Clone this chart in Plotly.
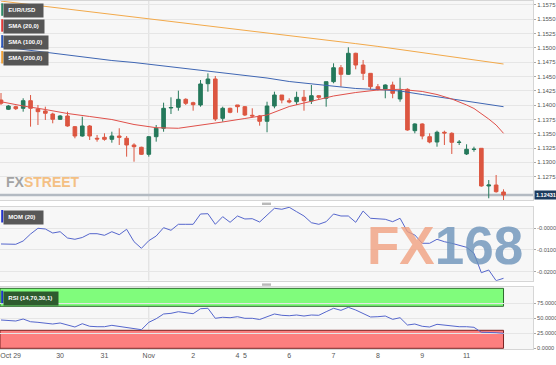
import plotly.graph_objects as go

# ---------------- data (EUR/USD 4h candles) ----------------
day_labels = ["Oct 29", "30", "31", "Nov", "2", "4", "5", "6", "7", "8", "9", "11"]
day_label_candle = [1.3, 8, 14, 20, 26, 32, 33, 39, 45, 51, 57, 63]
month_start_candle = 20

open_ = [1.14090, 1.13928, 1.13973, 1.13945, 1.14078, 1.13933, 1.13898, 1.13845, 1.13753, 1.13811,
         1.13624, 1.13461, 1.13636, 1.13421, 1.13438, 1.13403, 1.13461, 1.13421, 1.13304, 1.13264,
         1.13141, 1.13449, 1.13596, 1.13950, 1.13963, 1.14102, 1.14043, 1.14003, 1.14375, 1.14457,
         1.13770, 1.13945, 1.14003, 1.13973, 1.13823, 1.13811, 1.13718, 1.13985, 1.14177, 1.14078,
         1.14060, 1.14137, 1.14073, 1.14165, 1.14120, 1.14410, 1.14654, 1.14539, 1.14906, 1.14701,
         1.14556, 1.14322, 1.14282, 1.14352, 1.14108, 1.14277, 1.13554, 1.13671, 1.13449, 1.13356,
         1.13526, 1.13508, 1.13348, 1.13147, 1.13225, 1.13246, 1.12588, 1.12605, 1.12483]
high = [1.14212, 1.14003, 1.13990, 1.14120, 1.14177, 1.14003, 1.13973, 1.13868, 1.13828, 1.13886,
        1.13636, 1.13798, 1.13653, 1.13479, 1.13508, 1.13536, 1.13596, 1.13461, 1.13334, 1.13274,
        1.13461, 1.13653, 1.14043, 1.14137, 1.14253, 1.14120, 1.14060, 1.14439, 1.14556, 1.14509,
        1.13973, 1.13955, 1.14003, 1.13985, 1.13945, 1.13828, 1.14060, 1.14235, 1.14177, 1.14120,
        1.14235, 1.14265, 1.14352, 1.14177, 1.14410, 1.14731, 1.14701, 1.15011, 1.14916, 1.14789,
        1.14556, 1.14370, 1.14364, 1.14410, 1.14480, 1.14294, 1.13683, 1.13683, 1.13508, 1.13554,
        1.13554, 1.13526, 1.13391, 1.13316, 1.13274, 1.13246, 1.12692, 1.12780, 1.12530]
low = [1.14003, 1.13915, 1.13915, 1.13886, 1.13624, 1.13653, 1.13741, 1.13683, 1.13741, 1.13624,
       1.13421, 1.13449, 1.13391, 1.13362, 1.13379, 1.13344, 1.13304, 1.13100, 1.13012, 1.13129,
       1.13100, 1.13362, 1.13536, 1.13845, 1.13903, 1.14003, 1.13903, 1.13973, 1.14235, 1.13723,
       1.13711, 1.13858, 1.13868, 1.13811, 1.13788, 1.13641, 1.13526, 1.13945, 1.14032, 1.14032,
       1.14003, 1.13903, 1.14020, 1.14102, 1.13973, 1.14382, 1.14322, 1.14527, 1.14626, 1.14439,
       1.14277, 1.14253, 1.14120, 1.14120, 1.14060, 1.13554, 1.13508, 1.13403, 1.13334, 1.13274,
       1.13304, 1.13147, 1.13304, 1.13129, 1.13187, 1.12575, 1.12373, 1.12471, 1.12343]
close = [1.14032, 1.13985, 1.13938, 1.14078, 1.13945, 1.13886, 1.13858, 1.13753, 1.13811, 1.13636,
         1.13461, 1.13636, 1.13461, 1.13409, 1.13403, 1.13461, 1.13438, 1.13304, 1.13274, 1.13141,
         1.13449, 1.13596, 1.13945, 1.13959, 1.14102, 1.14032, 1.14008, 1.14370, 1.14457, 1.13758,
         1.13945, 1.13875, 1.13973, 1.13828, 1.13811, 1.13718, 1.13985, 1.14177, 1.14090, 1.14055,
         1.14137, 1.14078, 1.14165, 1.14137, 1.14410, 1.14654, 1.14539, 1.14906, 1.14701, 1.14556,
         1.14322, 1.14282, 1.14352, 1.14207, 1.14253, 1.13566, 1.13671, 1.13461, 1.13356, 1.13526,
         1.13514, 1.13351, 1.13353, 1.13229, 1.13231, 1.12588, 1.12605, 1.12488, 1.12431]

sma20_candle = [0, 3, 6, 9, 12, 15, 18, 21, 24, 27, 30, 33, 36, 39, 42, 45, 48, 51, 54, 57, 59, 61, 63, 64, 66, 67, 68]
sma20 = [1.14060, 1.13985, 1.13924, 1.13854, 1.13802, 1.13749, 1.13662, 1.13606, 1.13596, 1.13645,
         1.13706, 1.13767, 1.13828, 1.13976, 1.14064, 1.14160, 1.14221, 1.14265, 1.14277, 1.14239,
         1.14186, 1.14108, 1.14003, 1.13942, 1.13758, 1.13653, 1.13508]
sma100_candle = [0, 3, 6, 9, 12, 15, 18, 21, 24, 27, 30, 33, 36, 39, 42, 45, 48, 51, 54, 57, 60, 63, 66, 68]
sma100 = [1.15021, 1.14972, 1.14920, 1.14867, 1.14824, 1.14780, 1.14745, 1.14701, 1.14649, 1.14605,
          1.14562, 1.14518, 1.14474, 1.14413, 1.14370, 1.14326, 1.14291, 1.14273, 1.14247, 1.14186,
          1.14125, 1.14064, 1.14011, 1.13973]
sma200_candle = [0, 3, 6, 9, 12, 15, 18, 21, 24, 27, 30, 33, 36, 39, 42, 45, 48, 51, 54, 57, 60, 63, 66, 68]
sma200 = [1.15818, 1.15772, 1.15727, 1.15680, 1.15634, 1.15589, 1.15544, 1.15498, 1.15453, 1.15407,
          1.15362, 1.15316, 1.15269, 1.15220, 1.15173, 1.15124, 1.15075, 1.15026, 1.14974, 1.14923,
          1.14869, 1.14813, 1.14757, 1.14719]

mom20 = [-0.00723, -0.00733, -0.00737, -0.00585, -0.00263, 0.00000, -0.00032, -0.00217, -0.00157, -0.00447,
         -0.00507, -0.00424, -0.00249, -0.00249, -0.00323, -0.00157, -0.00295, -0.00046, -0.00618, -0.00922,
         -0.00571, -0.00355, 0.00028, -0.00092, 0.00184, 0.00184, 0.00184, 0.00659, 0.00673, 0.00184,
         0.00535, 0.00276, 0.00567, 0.00429, 0.00442, 0.00290, 0.00613, 0.00922, 0.00876, 0.00968,
         0.00765, 0.00567, 0.00258, 0.00184, 0.00304, 0.00659, 0.00567, 0.00567, 0.00276, 0.00797,
         0.00461, 0.00429, 0.00415, 0.00304, 0.00461, -0.00157, -0.00309, -0.00691, -0.00691, -0.00507,
         -0.00618, -0.00691, -0.00770, -0.00876, -0.01152, -0.02046, -0.01922, -0.02415, -0.02304]
rsi14 = [47.2, 46.3, 45.5, 48.8, 44.3, 43.3, 42.2, 40.5, 42.2, 39.3,
         35.5, 41.0, 36.7, 36.0, 36.0, 38.3, 36.7, 34.3, 32.7, 31.0,
         43.3, 49.3, 57.2, 58.3, 61.0, 58.8, 57.7, 66.0, 66.7, 50.0,
         51.7, 51.0, 52.7, 50.0, 50.0, 48.0, 52.7, 57.2, 55.0, 54.3,
         55.5, 53.8, 55.5, 55.0, 61.0, 66.7, 63.3, 68.3, 63.8, 58.3,
         52.2, 52.7, 53.8, 48.3, 51.0, 38.8, 40.5, 36.7, 35.5, 40.0,
         38.3, 37.2, 36.0, 36.0, 35.0, 26.7, 26.7, 26.0, 25.0]

price_ticks = [1.1275, 1.1300, 1.1325, 1.1350, 1.1375, 1.1400, 1.1425,
               1.1450, 1.1475, 1.1500, 1.1525, 1.1550, 1.1575]
mom_ticks = [0.0, -0.01, -0.02]
mom_tick_text = ["-0.0000", "-0.0100", "-0.0200"]
rsi_ticks = [0, 25, 50, 75]
rsi_tick_text = ["0.0000", "25.0000", "50.0000", "75.0000"]
rsi_overbought, rsi_oversold = 70, 30

# ---------------- style / layout helpers ----------------
W, H = 556, 365
def px(x): return x / W
def py(y): return 1 - y / H

GREEN = "#25795b"
RED = "#dc5641"
LINE_BLUE = "#5566cc"
FONT = "Liberation Sans, Arial, sans-serif"
candles = list(range(len(close)))

fig = go.Figure()
fig.add_trace(go.Scatter(x=sma200_candle, y=sma200, mode="lines", line=dict(color="#f2a94a", width=1),
                         xaxis="x", yaxis="y", hoverinfo="skip", showlegend=False))
fig.add_trace(go.Scatter(x=sma100_candle, y=sma100, mode="lines", line=dict(color="#3f66b3", width=1),
                         xaxis="x", yaxis="y", hoverinfo="skip", showlegend=False))
fig.add_trace(go.Scatter(x=sma20_candle, y=sma20, mode="lines", line=dict(color="#e0504a", width=1),
                         xaxis="x", yaxis="y", hoverinfo="skip", showlegend=False))
fig.add_trace(go.Candlestick(x=candles, open=open_, high=high, low=low, close=close,
                             xaxis="x", yaxis="y", whiskerwidth=0,
                             increasing=dict(line=dict(color=GREEN, width=1), fillcolor=GREEN),
                             decreasing=dict(line=dict(color=RED, width=1), fillcolor=RED),
                             hoverinfo="skip", showlegend=False))
fig.add_trace(go.Scatter(x=candles, y=mom20, mode="lines", line=dict(color=LINE_BLUE, width=1),
                         xaxis="x", yaxis="y2", hoverinfo="skip", showlegend=False))
fig.add_trace(go.Scatter(x=candles, y=rsi14, mode="lines", line=dict(color=LINE_BLUE, width=1),
                         xaxis="x", yaxis="y3", hoverinfo="skip", showlegend=False))

x_left, x_right = -1 / 7.39, 532 / 7.39
price_range = [1.15837 - 0.0001747 * 200, 1.15837 - 0.0001747 * 1]
mom_range = [-0.02415, 0.00995]
rsi_range = [-1.17, 101.7]

def yaxis_style(fs):
    return dict(side="right", anchor="x", showline=True, linecolor="#d6d6d6", mirror=True,
                gridcolor="#e6e6e6", gridwidth=1, zeroline=False, ticks="outside", ticklen=2,
                tickcolor="#aaa", tickfont=dict(family=FONT, size=fs, color="#555"),
                automargin=False, fixedrange=True)

fig.update_layout(
    width=W, height=H, margin=dict(l=0, r=0, t=0, b=0),
    paper_bgcolor="white", plot_bgcolor="#f7f7f7",
    showlegend=False, hovermode=False, boxgap=0.3,
    font=dict(family=FONT),
    xaxis=dict(domain=[0, px(533)], range=[x_left, x_right], anchor="y3",
               tickvals=day_label_candle, ticktext=day_labels,
               tickfont=dict(family=FONT, size=7, color="#555"),
               ticks="", showgrid=False, zeroline=False, showline=True, linecolor="#d6d6d6",
               mirror="all", rangeslider=dict(visible=False), automargin=False, fixedrange=True),
    yaxis=dict(domain=[py(200), py(1)], range=price_range,
               tickvals=price_ticks, ticktext=[f"{v:.4f}" for v in price_ticks], **yaxis_style(6)),
    yaxis2=dict(domain=[py(280.7), py(206.7)], range=mom_range,
                tickvals=mom_ticks, ticktext=mom_tick_text, **yaxis_style(5.6)),
    yaxis3=dict(domain=[py(349), py(287.3)], range=rsi_range,
                tickvals=rsi_ticks, ticktext=rsi_tick_text, **yaxis_style(5.6)),
)

shapes = []
# month separator (one per panel)
for yr, rng in (("y", price_range), ("y2", mom_range), ("y3", rsi_range)):
    shapes.append(dict(type="line", xref="x", yref=yr, x0=month_start_candle, x1=month_start_candle,
                       y0=rng[0], y1=rng[1], line=dict(color="#dcdcdc", width=1), layer="below"))
# RSI bands
shapes.append(dict(type="rect", xref="x", yref="y3", x0=x_left, x1=candles[-1],
                   y0=rsi_overbought, y1=100, fillcolor="#80fc7c", line=dict(color="#2f6a2f", width=1),
                   layer="below"))
shapes.append(dict(type="rect", xref="x", yref="y3", x0=x_left, x1=candles[-1],
                   y0=0, y1=rsi_oversold, fillcolor="#fd7f7f", line=dict(color="#7a2424", width=1),
                   layer="below"))
# last price line
shapes.append(dict(type="line", xref="x", yref="y", x0=x_left, x1=x_right, y0=close[-1], y1=close[-1],
                   line=dict(color="#b3bac2", width=2.5), layer="below"))
# panel drag handles
for yt in (202.6, 283.4):
    shapes.append(dict(type="rect", xref="paper", yref="paper", x0=px(262), x1=px(271),
                       y0=py(yt + 2.4), y1=py(yt), fillcolor="#b9b9b9", line=dict(width=0)))

annotations = []
def tag(text, y_top, w, bg, accent, h=12.5):
    shapes.append(dict(type="rect", xref="paper", yref="paper", x0=px(1.2), x1=px(3.2),
                       y0=py(y_top + h), y1=py(y_top), fillcolor=accent, line=dict(width=0),
                       layer="above"))
    annotations.append(dict(xref="paper", yref="paper", x=px(3.2), y=py(y_top), xanchor="left",
                            yanchor="top", showarrow=False, align="left",
                            text="\u00a0\u00a0" + "<b>" + text + "</b>",
                            font=dict(family=FONT, size=6, color="white"),
                            bgcolor=bg, width=w - 4, height=h - 2, borderpad=1))

tag("EUR/USD", 3.3, 41, "#565656", "#2f8a66")
tag("SMA (20,0)", 19.2, 41.6, "#565656", "#e03a3a")
tag("SMA (100,0)", 35.1, 46, "#565656", "#2c56b8")
tag("SMA (200,0)", 51.0, 46, "#565656", "#f2a33a")
tag("MOM (20)", 210.0, 41, "#585858", "#2233cc")
tag("RSI (14,70,30,1)", 290.7, 55.6, "#2e5b2e", "#2233cc")

# last price label
annotations.append(dict(xref="paper", yref="y", x=px(533.5), y=close[-1], xanchor="left",
                        yanchor="middle", showarrow=False,
                        text="<b>" + f"{close[-1]:.5f}" + "</b>",
                        font=dict(family=FONT, size=5.5, color="white"),
                        bgcolor="#1d3b5e", borderpad=1))
# watermarks
annotations.append(dict(xref="paper", yref="paper", x=px(4), y=py(181.5), xanchor="left",
                        yanchor="middle", showarrow=False,
                        text="<b><span style='color:#a3a3a3'>FX</span>"
                             "<span style='color:#f4c084'>STREET</span></b>",
                        font=dict(family="Liberation Sans Narrow, Liberation Sans, Arial", size=14)))
annotations.append(dict(xref="paper", yref="paper", x=px(445), y=py(245), xanchor="center",
                        yanchor="middle", showarrow=False,
                        text="<b><span style='color:rgba(240,160,128,0.8)'>FX</span>"
                             "<span style='color:rgba(105,145,185,0.78)'>168</span></b>",
                        font=dict(family=FONT, size=53)))

fig.update_layout(shapes=shapes, annotations=annotations)
fig.write_html("out.html", config={"displayModeBar": False})
